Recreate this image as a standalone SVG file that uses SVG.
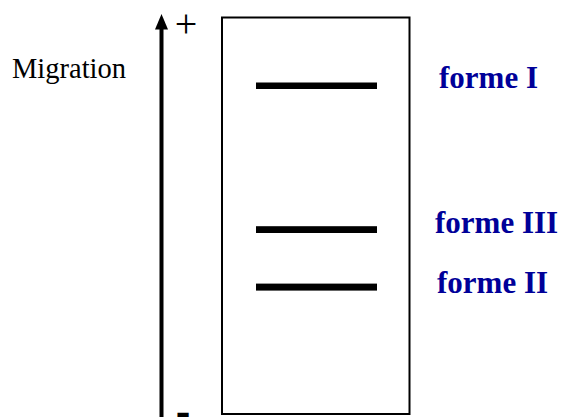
<svg xmlns="http://www.w3.org/2000/svg" width="563" height="417" viewBox="0 0 563 417">
<style>
.band{fill:#000}
.lbl{font-family:"Liberation Serif","Times New Roman",serif;font-weight:bold;font-size:31px;fill:#000099}
.axis{font-family:"Liberation Sans",Arial,sans-serif;fill:#000}
</style>
<rect width="563" height="417" fill="#fff"/>
<g id="gel">
<rect x="222" y="17.5" width="187.5" height="396.5" fill="none" stroke="#000" stroke-width="2"/>
</g>
<g id="band-forme-I"><rect class="band" x="256" y="82.5" width="121" height="6.5"/><text class="lbl" x="439" y="88">forme I</text></g>
<g id="band-forme-III"><rect class="band" x="256" y="226.2" width="121" height="6.8"/><text class="lbl" x="435" y="233">forme III</text></g>
<g id="band-forme-II"><rect class="band" x="256" y="283.6" width="121" height="7"/><text class="lbl" x="437" y="292.5">forme II</text></g>
<g id="axis">
<rect x="159.5" y="26" width="4" height="391" fill="#000"/>
<polygon points="161.5,14 155,29.5 168,29.5" fill="#000"/>
<text x="186" y="36.5" font-family="'Liberation Serif','Times New Roman',serif" font-size="40" text-anchor="middle" fill="#000">+</text>
<text class="axis" x="183" y="427" font-size="44" font-weight="bold" text-anchor="middle">-</text>
<text x="12" y="78.3" font-family="Liberation Serif,'Times New Roman',serif" font-size="28.5" fill="#000">Migration</text>
</g>
<g id="connectors"></g>
</svg>
